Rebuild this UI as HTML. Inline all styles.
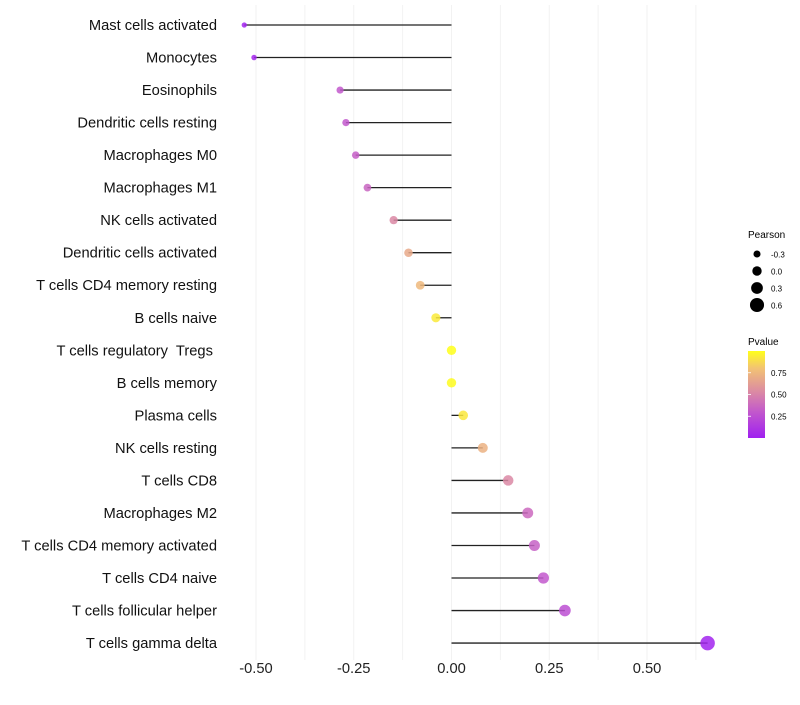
<!DOCTYPE html>
<html><head><meta charset="utf-8"><style>
body{margin:0;background:#fff;font-family:"Liberation Sans",sans-serif}
svg text{font-family:"Liberation Sans",sans-serif;white-space:pre}
</style></head><body>
<svg id="chart" width="800" height="700" xmlns="http://www.w3.org/2000/svg">
<defs><linearGradient id="pg" x1="0" y1="1" x2="0" y2="0">
<stop offset="0" stop-color="#a020f0"/><stop offset="0.3" stop-color="#c258cc"/><stop offset="0.55" stop-color="#dd8ea0"/><stop offset="0.8" stop-color="#f2c274"/><stop offset="1" stop-color="#ffff1a"/></linearGradient></defs>
<g id="grid"></g>
<g id="marks"></g>
<g id="ylabels"></g>
<g id="xlabels"></g>
<g>
<text x="748" y="238" font-size="10">Pearson</text>
<g id="sizeleg"></g>
</g>
<g>
<text x="748" y="345" font-size="10">Pvalue</text>
<rect x="748" y="351" width="17" height="87" fill="url(#pg)"/>
<g id="cbleg"></g>
</g>
</svg>
<script>
const categories=["Mast cells activated","Monocytes","Eosinophils","Dendritic cells resting","Macrophages M0","Macrophages M1","NK cells activated","Dendritic cells activated","T cells CD4 memory resting","B cells naive","T cells regulatory  Tregs ","B cells memory","Plasma cells","NK cells resting","T cells CD8","Macrophages M2","T cells CD4 memory activated","T cells CD4 naive","T cells follicular helper","T cells gamma delta"];
const pearson=[-0.53,-0.505,-0.285,-0.27,-0.245,-0.215,-0.148,-0.11,-0.08,-0.04,0.0,0.0,0.03,0.08,0.145,0.195,0.212,0.235,0.29,0.655];
const pvalues=[0.02,0.03,0.3,0.3,0.33,0.36,0.52,0.68,0.75,0.93,1.0,0.99,0.92,0.72,0.52,0.38,0.34,0.3,0.25,0.02];
const xTicks=[-0.5,-0.25,0,0.25,0.5];
const xTickLabels=["-0.50","-0.25","0.00","0.25","0.50"];
const sizeLegend=[-0.3,0.0,0.3,0.6];
const sizeLegendLabels=["-0.3","0.0","0.3","0.6"];
const cbTicks=[0.75,0.5,0.25];
const cbLabels=["0.75","0.50","0.25"];
const NS="http://www.w3.org/2000/svg";
const x=v=>451.5+v*391;
const y=i=>25+i*32.53;
const r=v=>Math.max(1.8,4.7+v*3.9);
const cb=p=>438-p*87;
function col(p){const st=[[0,[160,32,240]],[0.3,[194,88,204]],[0.55,[221,142,160]],[0.8,[242,194,116]],[1,[255,255,26]]];
for(let k=1;k<st.length;k++){if(p<=st[k][0]){const a=st[k-1],b=st[k],t=(p-a[0])/(b[0]-a[0]);return "rgb("+a[1].map((c,j)=>Math.round(c+(b[1][j]-c)*t)).join(",")+")";}}return "rgb(255,255,26)";}
function mk(t,a,parent){const e=document.createElementNS(NS,t);for(const k in a)e.setAttribute(k,a[k]);document.getElementById(parent).appendChild(e);return e;}
for(let v=-0.5;v<=0.625;v+=0.125){
const g=mk("line",{x1:x(v),x2:x(v),y1:5,y2:660,stroke:"#f2f2f2","stroke-width":1},"grid");

}
xTicks.forEach((v,i)=>{const t=mk("text",{x:x(v),y:673,"font-size":14.7,"text-anchor":"middle",fill:"#222"},"xlabels");t.textContent=xTickLabels[i];

});
categories.forEach((c,i)=>{
const t=mk("text",{x:217,y:y(i)+5,"font-size":14.7,"text-anchor":"end",fill:"#111"},"ylabels");t.textContent=c;


const l=mk("line",{x1:x(0),x2:x(pearson[i]),y1:y(i),y2:y(i),stroke:"#222","stroke-width":1.3},"marks");


const d=mk("circle",{cx:x(pearson[i]),cy:y(i),r:r(pearson[i]),fill:col(pvalues[i]),"fill-opacity":0.85},"marks");

});
sizeLegend.forEach((v,i)=>{const cy=254+i*17;
const d=mk("circle",{cx:757,cy:cy,r:r(v)},"sizeleg");


const t=mk("text",{x:771,y:cy+3.5,"font-size":8},"sizeleg");t.textContent=sizeLegendLabels[i];

});
cbTicks.forEach((v,i)=>{const t=mk("text",{x:771,y:cb(v)+3,"font-size":8},"cbleg");t.textContent=cbLabels[i];


const l=mk("line",{x1:748,x2:751,y1:cb(v),y2:cb(v),stroke:"#fff","stroke-width":0.8},"cbleg");

});
</script>
</body></html>
